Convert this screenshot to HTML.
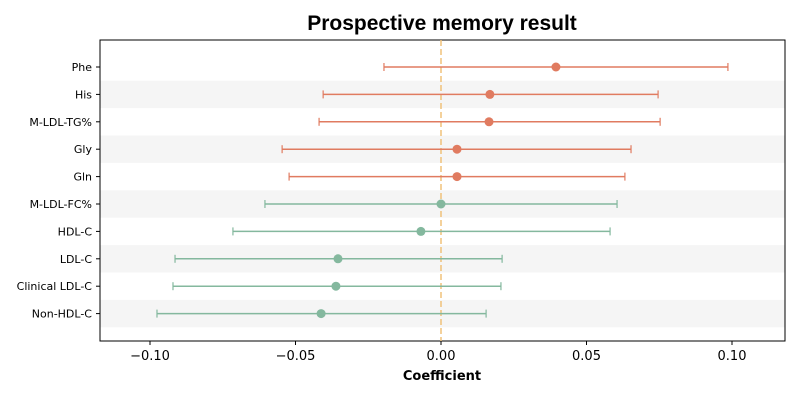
<!DOCTYPE html>
<html><head><meta charset="utf-8">
<style>
body{margin:0;background:#fff;}
svg text{font-family:"DejaVu Sans","Liberation Sans",sans-serif;}
</style></head>
<body>
<svg id="chart" width="800" height="400" viewBox="0 0 800 400">
<text x="442" y="30" text-anchor="middle" font-size="21" font-weight="bold" fill="#000" style="font-family:'Liberation Sans',sans-serif">Prospective memory result</text>
<g id="bands"></g>
<g id="xaxis"></g>
<g id="marks"></g>
<text x="442" y="380" text-anchor="middle" font-size="13" font-weight="bold">Coefficient</text>
</svg>
<script>
const labels=["Phe","His","M-LDL-TG%","Gly","Gln","M-LDL-FC%","HDL-C","LDL-C","Clinical LDL-C","Non-HDL-C"];
const coef=[0.0395,0.0168,0.0165,0.0055,0.0055,0.0,-0.0069,-0.0354,-0.0361,-0.0412];
const lower=[-0.0196,-0.0405,-0.0419,-0.0546,-0.0522,-0.0605,-0.0715,-0.0914,-0.0921,-0.0976];
const upper=[0.0986,0.0746,0.0753,0.0653,0.0632,0.0605,0.0581,0.0210,0.0206,0.0155];
const groupColor=["#e07b60","#e07b60","#e07b60","#e07b60","#e07b60","#84b89e","#84b89e","#84b89e","#84b89e","#84b89e"];
const xTicks=[-0.10,-0.05,0.00,0.05,0.10];
const xTickLabels=["−0.10","−0.05","0.00","0.05","0.10"];

const L=100,R=785,T=40,B=341;
const x=v=>441+v*2910;
const y=i=>67+i*27.4;
const NS="http://www.w3.org/2000/svg";
function mk(tag,attrs,parent){const e=document.createElementNS(NS,tag);for(const k in attrs)e.setAttribute(k,attrs[k]);parent.appendChild(e);return e;}
const bands=document.getElementById('bands'),ax=document.getElementById('xaxis'),mg=document.getElementById('marks');
labels.forEach((lab,i)=>{
  if(i%2===1){const b=mk('rect',{x:L,y:y(i)-13.7,width:R-L,height:27.4,fill:'#f5f5f5'},bands);
    
    }
  const t=mk('text',{x:L-8,y:y(i)+4,'text-anchor':'end','font-size':'11',fill:'#000'},ax);t.textContent=lab;
  
  
  mk('line',{x1:L-4,x2:L,y1:y(i),y2:y(i),stroke:'#000'},ax);
});
const fr=mk('rect',{x:L,y:T,width:R-L,height:B-T,fill:'none',stroke:'#000','stroke-width':1},ax);


xTicks.forEach((v,i)=>{
  mk('line',{x1:x(v),x2:x(v),y1:B,y2:B+4,stroke:'#000'},ax);
  const t=mk('text',{x:x(v),y:B+19,'text-anchor':'middle','font-size':'13'},ax);t.textContent=xTickLabels[i];
  
  
});
const zl=mk('line',{x1:x(0),x2:x(0),y1:T,y2:B,stroke:'#f0c27a','stroke-width':1.5,'stroke-dasharray':'6,3'},mg);


labels.forEach((lab,i)=>{
  const c=groupColor[i],yy=y(i);
  const g=mk('g',{},mg);
  
  
  mk('line',{x1:x(lower[i]),x2:x(upper[i]),y1:yy,y2:yy,stroke:c,'stroke-width':1.5},g);
  mk('line',{x1:x(lower[i]),x2:x(lower[i]),y1:yy-4,y2:yy+4,stroke:c,'stroke-width':1.2},g);
  mk('line',{x1:x(upper[i]),x2:x(upper[i]),y1:yy-4,y2:yy+4,stroke:c,'stroke-width':1.2},g);
  mk('circle',{cx:x(coef[i]),cy:yy,r:4.5,fill:c},g);
});
</script>
</body></html>
